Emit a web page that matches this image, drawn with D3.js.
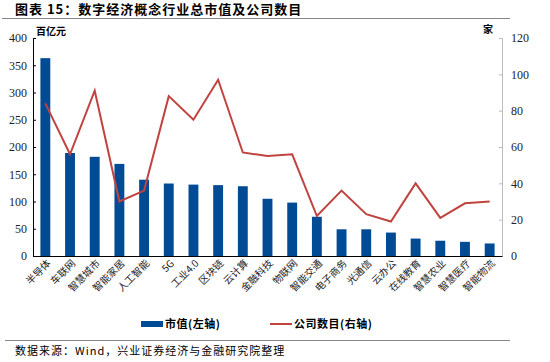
<!DOCTYPE html>
<html>
<head>
<meta charset="utf-8">
<script src="https://cdn.jsdelivr.net/npm/d3@7"></script>
<style>
body { margin: 0; background: #fff; }
svg text { font-family: "Noto Sans CJK SC", sans-serif; }
</style>
</head>
<body>
<div id="chart"></div>
<script>
var categories = ["半导体", "车联网", "智慧城市", "智能家居", "人工智能", "5G", "工业4.0", "区块链", "云计算", "金融科技",
    "物联网", "智能交通", "电子商务", "光通信", "云办公", "在线教育", "智慧农业", "智慧医疗", "智能物流"];
var marketCap = [363, 189, 182, 169, 140, 133, 131, 130, 128, 105, 98, 72, 49, 49, 43, 32, 28, 26, 23];
var companyCount = [84, 56, 91, 30, 36, 88, 75, 97, 57, 55, 56, 22, 36, 23, 19, 40, 21, 29, 30];
var leftTicks = [0, 50, 100, 150, 200, 250, 300, 350, 400];
var rightTicks = [0, 20, 40, 60, 80, 100, 120];

var width = 550, height = 362;
var plot = { left: 33, right: 502, top: 38, bottom: 256 };
var serif = "'Liberation Serif', 'Times New Roman', serif";

var svg = d3.select("#chart").append("svg")
    .attr("width", width)
    .attr("height", height);

// title
svg.append("text")
    .attr("x", 15).attr("y", 14)
    .style("font-size", "13px").style("font-weight", "bold")
    .style("letter-spacing", "1px")
    .text("图表 15：数字经济概念行业总市值及公司数目");
svg.append("line")
    .attr("x1", 2).attr("x2", 510).attr("y1", 18.5).attr("y2", 18.5)
    .style("stroke", "#888").style("stroke-width", 1);

var x = d3.scaleBand()
    .domain(categories)
    .range([plot.left, plot.right])
    .paddingInner(0.6)
    .paddingOuter(0.3);

var y = d3.scaleLinear().domain([0, 400]).range([plot.bottom, plot.top]);
var y2 = d3.scaleLinear().domain([0, 120]).range([plot.bottom, plot.top]);

// bars
svg.selectAll(".bar")
    .data(marketCap)
    .enter().append("rect")
    .attr("class", "bar")
    .attr("x", function (d, i) { return x(categories[i]); })
    .attr("y", function (d) { return y(d); })
    .attr("width", x.bandwidth())
    .attr("height", function (d) { return plot.bottom - y(d); })
    .style("fill", "#014B95");

// line
var line = d3.line()
    .x(function (d, i) { return x(categories[i]) + x.bandwidth() / 2; })
    .y(function (d) { return y2(d); });
svg.append("path")
    .datum(companyCount)
    .attr("d", line)
    .style("fill", "none")
    .style("stroke", "#C0433F")
    .style("stroke-width", 2);

// left axis
var ly = svg.append("g")
    .attr("transform", "translate(" + plot.left + ",0)")
    .call(d3.axisRight(y).tickValues(leftTicks).tickSize(3).tickFormat(d3.format("d")));
ly.select(".domain").style("stroke", "#000");
ly.selectAll("line").style("stroke", "#000");
ly.selectAll("text")
    .attr("x", -6)
    .style("text-anchor", "end")
    .style("font-family", serif)
    .style("font-size", "12px")
    .style("fill", "#222");

// right axis
var ry = svg.append("g")
    .attr("transform", "translate(" + plot.right + ",0)")
    .call(d3.axisLeft(y2).tickValues(rightTicks).tickSize(3));
ry.select(".domain").style("stroke", "#bbb");
ry.selectAll("line").style("stroke", "#bbb");
ry.selectAll("text")
    .attr("x", 9)
    .style("text-anchor", "start")
    .style("font-family", serif)
    .style("font-size", "12px")
    .style("fill", "#222");

// bottom axis
var bx = svg.append("g")
    .attr("transform", "translate(0," + plot.bottom + ")")
    .call(d3.axisBottom(x).tickSize(0));
bx.select(".domain").style("stroke", "#000");
bx.selectAll("text")
    .attr("transform", "translate(6,8) rotate(-45)")
    .attr("dy", 0)
    .attr("y", 0)
    .style("text-anchor", "end")
    .style("font-size", "10px")
    .style("fill", "#222");

// unit labels
svg.append("text").attr("x", 36).attr("y", 35)
    .style("font-size", "10px").style("font-weight", "bold").text("百亿元");
svg.append("text").attr("x", 483).attr("y", 33)
    .style("font-size", "10px").style("font-weight", "bold").text("家");

// legend
var legend = svg.append("g");
legend.append("rect").attr("x", 141).attr("y", 321).attr("width", 22).attr("height", 6)
    .style("fill", "#014B95");
legend.append("text").attr("x", 165).attr("y", 328)
    .style("font-size", "11px").style("font-weight", "bold").style("letter-spacing", "0.5px")
    .text("市值(左轴)");
legend.append("line").attr("x1", 270).attr("x2", 292).attr("y1", 324).attr("y2", 324)
    .style("stroke", "#C0433F").style("stroke-width", 2);
legend.append("text").attr("x", 294).attr("y", 328)
    .style("font-size", "11px").style("font-weight", "bold").style("letter-spacing", "0.5px")
    .text("公司数目(右轴)");

// source
svg.append("line")
    .attr("x1", 5).attr("x2", 510).attr("y1", 340.5).attr("y2", 340.5)
    .style("stroke", "#888").style("stroke-width", 1);
svg.append("text").attr("x", 15).attr("y", 355)
    .style("font-size", "11px").style("letter-spacing", "1px")
    .text("数据来源：Wind，兴业证券经济与金融研究院整理");
</script>
</body>
</html>
